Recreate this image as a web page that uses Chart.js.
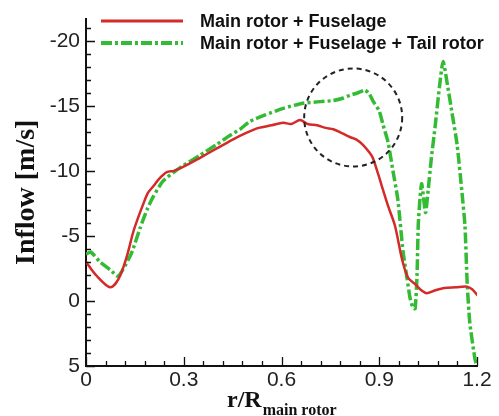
<!DOCTYPE html>
<html>
<head>
<meta charset="utf-8">
<script src="https://cdn.jsdelivr.net/npm/chart.js@4"></script>
<style>
  html, body { margin: 0; padding: 0; background: #fff; }
  #wrap { position: relative; width: 499px; height: 416px; }
</style>
</head>
<body>
<div id="wrap">
  <canvas id="chart"></canvas>
</div>
<script>
// Main rotor + Fuselage
const redX = [0, 0.03, 0.074, 0.10, 0.125, 0.145, 0.16, 0.175, 0.19, 0.206, 0.225, 0.248, 0.27, 0.298,
  0.35, 0.40, 0.45, 0.49, 0.53, 0.57, 0.605, 0.63, 0.657, 0.68, 0.709, 0.735, 0.759, 0.785, 0.81,
  0.83, 0.85, 0.87, 0.88, 0.896, 0.912, 0.927, 0.948, 0.97, 0.988, 1.01, 1.03, 1.046, 1.07, 1.10,
  1.135, 1.169, 1.185, 1.203];
const redY = [-3.0, -2.0, -1.05, -1.7, -3.4, -5.3, -6.4, -7.4, -8.3, -8.8, -9.4, -9.9, -10.0, -10.3,
  -11.0, -11.7, -12.4, -12.9, -13.3, -13.5, -13.7, -13.6, -13.9, -13.6, -13.5, -13.3, -13.2, -12.9, -12.6,
  -12.4, -12.0, -11.4, -11.0, -9.8, -8.5, -7.3, -5.8, -3.2, -1.8, -1.3, -0.8, -0.6, -0.8, -1.0,
  -1.05, -1.1, -0.9, -0.4];

// Main rotor + Fuselage + Tail rotor
const greenX = [0, 0.015, 0.043, 0.074, 0.098, 0.113, 0.14, 0.166, 0.187, 0.206, 0.236, 0.27, 0.298,
  0.35, 0.40, 0.44, 0.473, 0.503, 0.55, 0.605, 0.666, 0.71, 0.759, 0.79, 0.81, 0.835, 0.856, 0.87,
  0.88, 0.90, 0.912, 0.927, 0.942, 0.957, 0.973, 0.985, 0.994, 1.003, 1.01, 1.016, 1.02, 1.03,
  1.042, 1.05, 1.06, 1.071, 1.085, 1.096, 1.11, 1.123, 1.139, 1.154, 1.163, 1.17, 1.178, 1.194, 1.2];
const greenY = [-3.6, -3.75, -3.0, -2.4, -1.9, -2.4, -3.7, -5.6, -7.0, -8.0, -9.2, -9.9, -10.4,
  -11.2, -12.0, -12.7, -13.2, -13.8, -14.3, -14.8, -15.2, -15.3, -15.4, -15.6, -15.8, -16.0, -16.2, -15.9,
  -15.4, -14.6, -13.5, -12.2, -10.0, -7.8, -3.8, -1.8, -0.3, 0.5, 0.6, -2.0, -6.0, -9.0,
  -6.8, -8.5, -11.0, -13.3, -16.5, -18.4, -16.5, -14.5, -12.0, -8.3, -5.8, -1.3, 1.7, 4.5, 5.0];

const seriesNames = ['Main rotor + Fuselage', 'Main rotor + Fuselage + Tail rotor'];
const xTicks = [0, 0.3, 0.6, 0.9, 1.2];
const yTicks = [-20, -15, -10, -5, 0, 5];
// dashed circle marking the region of interest (centre in data units, radius in px)
const circleAt = { x: 0.82, y: -14.1 };

const RED = '#d42a2a';
const GREEN = '#33bb33';
const GREEN_DASH = [11, 3, 3, 3];
const SERIF = '"Liberation Serif", "DejaVu Serif", serif';
const SANS = '"Liberation Sans", Arial, sans-serif';

function pts(xs, ys) {
  return xs.map((x, i) => ({ x: x, y: ys[i] }));
}

// inward tick marks, major + minor
const innerTicks = {
  id: 'innerTicks',
  afterDraw(chart) {
    const ctx = chart.ctx;
    const xs = chart.scales.x, ys = chart.scales.y;
    const a = chart.chartArea;
    ctx.save();
    ctx.strokeStyle = '#111';
    ctx.lineWidth = 1.3;
    ctx.beginPath();
    for (let i = 0; i <= 20; i++) {
      const v = i * 0.06;
      const px = Math.round(xs.getPixelForValue(v)) + 0.5;
      const len = (i % 5 === 0) ? 9 : 5;
      ctx.moveTo(px, a.bottom);
      ctx.lineTo(px, a.bottom - len);
    }
    for (let v = -21; v <= 5; v++) {
      const py = Math.round(ys.getPixelForValue(v)) + 0.5;
      const len = (v % 5 === 0) ? 9 : 5;
      ctx.moveTo(a.left, py);
      ctx.lineTo(a.left + len, py);
    }
    ctx.stroke();
    ctx.restore();
  }
};

// legend drawn inside the plot, the dashed circle, x title with subscript
const overlay = {
  id: 'overlay',
  afterDatasetsDraw(chart) {
    const ctx = chart.ctx;
    const xs = chart.scales.x, ys = chart.scales.y;
    ctx.save();
    // circle
    ctx.strokeStyle = '#222';
    ctx.lineWidth = 2;
    ctx.setLineDash([5, 4]);
    ctx.beginPath();
    ctx.arc(xs.getPixelForValue(circleAt.x), ys.getPixelForValue(circleAt.y), 49, 0, Math.PI * 2);
    ctx.stroke();

    // legend
    const rows = [
      { name: seriesNames[0], color: RED, dash: [], w: 3 },
      { name: seriesNames[1], color: GREEN, dash: GREEN_DASH, w: 4 }
    ];
    ctx.font = 'bold 18px ' + SANS;
    ctx.textBaseline = 'middle';
    rows.forEach((r, i) => {
      const y = 21 + i * 22;
      ctx.strokeStyle = r.color;
      ctx.lineWidth = r.w;
      ctx.setLineDash(r.dash);
      ctx.beginPath();
      ctx.moveTo(101, y);
      ctx.lineTo(183, y);
      ctx.stroke();
      ctx.fillStyle = '#111';
      ctx.fillText(r.name, 200, y + 1);
    });

    // x axis title: r/R with subscript
    ctx.setLineDash([]);
    ctx.fillStyle = '#111';
    ctx.textBaseline = 'alphabetic';
    ctx.textAlign = 'left';
    ctx.font = 'bold 24px ' + SERIF;
    const main = 'r/R';
    ctx.fillText(main, 227, 407);
    const w = ctx.measureText(main).width;
    ctx.font = 'bold 16px ' + SERIF;
    ctx.fillText('main rotor', 227 + w + 1, 415);
    ctx.restore();
  }
};

new Chart(document.getElementById('chart'), {
  type: 'line',
  data: {
    datasets: [
      {
        label: seriesNames[0],
        data: pts(redX, redY),
        borderColor: RED,
        borderWidth: 2.5,
        pointRadius: 0,
        tension: 0.3
      },
      {
        label: seriesNames[1],
        data: pts(greenX, greenY),
        borderColor: GREEN,
        borderWidth: 3.5,
        borderDash: GREEN_DASH,
        pointRadius: 0,
        tension: 0.2
      }
    ]
  },
  options: {
    animation: false,
    responsive: true,
    maintainAspectRatio: false,
    layout: { padding: { top: 10, right: 22, left: 0, bottom: 0 } },
    plugins: { legend: { display: false }, tooltip: { enabled: false } },
    scales: {
      x: {
        type: 'linear',
        min: 0,
        max: 1.2,
        afterBuildTicks: s => { s.ticks = xTicks.map(v => ({ value: v })); },
        afterFit: s => { s.height = 50; },
        grid: { display: false, drawTicks: false, tickLength: 0 },
        border: { display: true, color: '#111', width: 2 },
        ticks: {
          padding: 2,
          color: '#222',
          font: { family: SANS, size: 21 },
          maxRotation: 0,
          callback: v => (v === 0 ? '0' : v.toFixed(1))
        }
      },
      y: {
        type: 'linear',
        min: -21.7,
        max: 5,
        reverse: true,
        afterBuildTicks: s => { s.ticks = yTicks.map(v => ({ value: v })); },
        afterFit: s => { s.width = 86; },
        grid: { display: false, drawTicks: false, tickLength: 0 },
        border: { display: true, color: '#111', width: 2 },
        ticks: {
          padding: 6,
          color: '#222',
          font: { family: SANS, size: 21 }
        },
        title: {
          display: true,
          text: 'Inflow [m/s]',
          color: '#111',
          padding: { top: 10, bottom: 0 },
          font: { family: SERIF, size: 28, weight: 'bold' }
        }
      }
    }
  },
  plugins: [innerTicks, overlay]
});
</script>
</body>
</html>
